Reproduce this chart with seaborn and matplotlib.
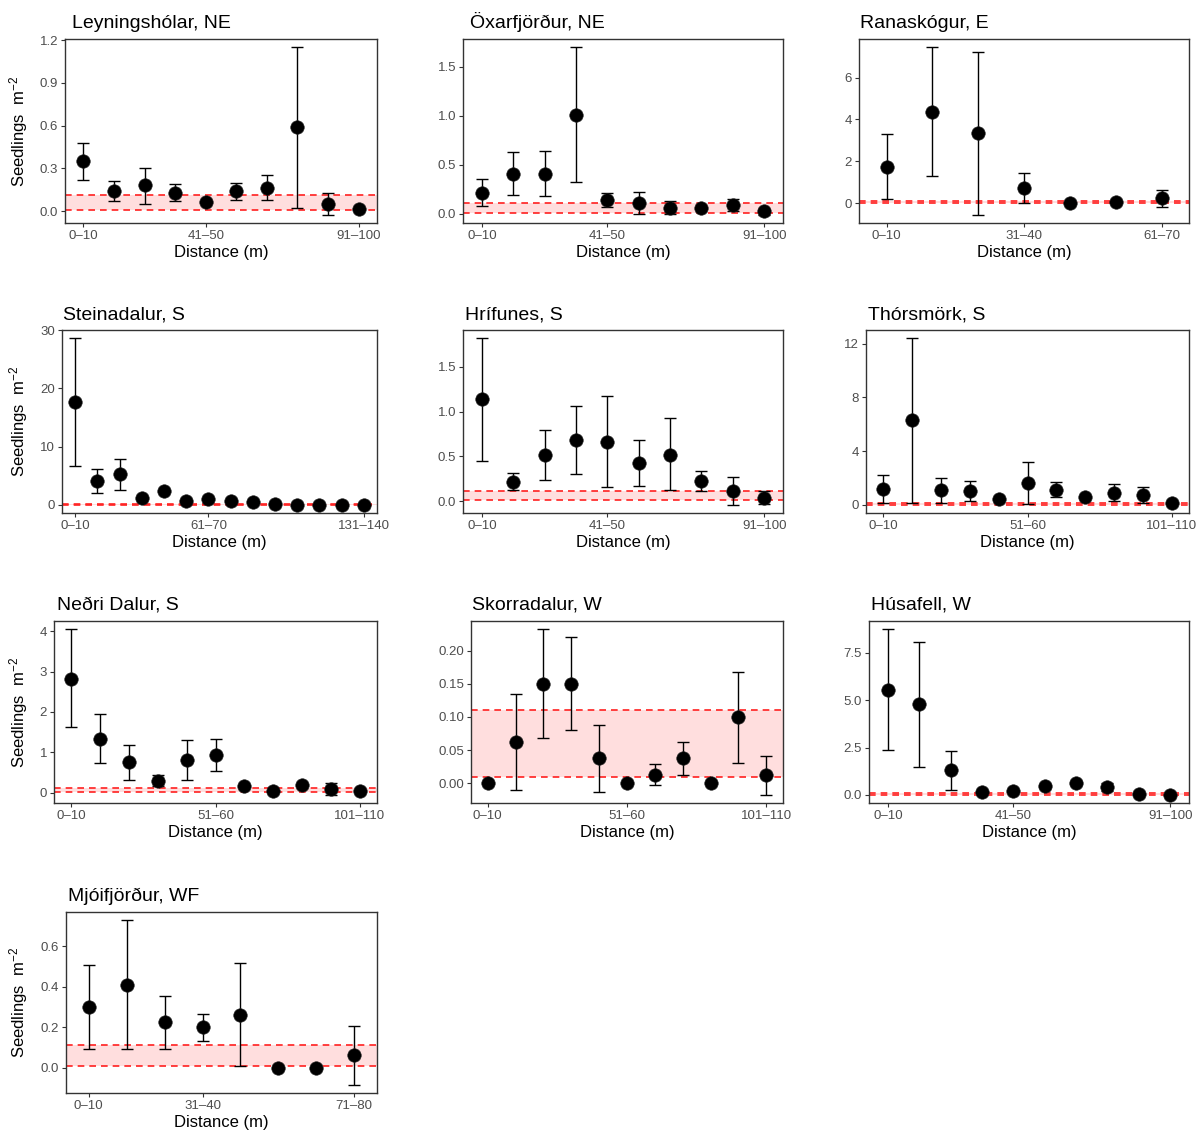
import numpy as np
import seaborn as sns
import matplotlib.pyplot as plt
from matplotlib.ticker import MultipleLocator, FormatStrFormatter

# distance bins (m)
distance_bins = ["0–10", "11–20", "21–30", "31–40", "41–50", "51–60", "61–70",
                 "71–80", "81–90", "91–100", "101–110", "111–120", "121–130", "131–140"]

sites = ["Leyningshólar, NE", "Öxarfjörður, NE", "Ranaskógur, E",
         "Steinadalur, S", "Hrífunes, S", "Thórsmörk, S",
         "Neðri Dalur, S", "Skorradalur, W", "Húsafell, W",
         "Mjóifjörður, WF"]

# mean seedlings m-2 and lower / upper error bar ends
leyn_mean = [0.35, 0.14, 0.18, 0.13, 0.065, 0.14, 0.165, 0.59, 0.05, 0.015]
leyn_lo = [0.22, 0.07, 0.05, 0.07, 0.065, 0.08, 0.08, 0.02, -0.025, 0.015]
leyn_hi = [0.48, 0.21, 0.30, 0.19, 0.065, 0.20, 0.25, 1.15, 0.13, 0.015]

oxar_mean = [0.21, 0.41, 0.41, 1.01, 0.14, 0.11, 0.06, 0.06, 0.09, 0.025]
oxar_lo = [0.08, 0.19, 0.18, 0.32, 0.07, 0.0, 0.0, 0.06, 0.03, -0.01]
oxar_hi = [0.35, 0.63, 0.64, 1.70, 0.21, 0.22, 0.13, 0.06, 0.15, 0.05]

rana_mean = [1.75, 4.35, 3.35, 0.72, 0.0, 0.05, 0.25]
rana_lo = [0.2, 1.3, -0.55, 0.0, 0.0, 0.05, -0.2]
rana_hi = [3.3, 7.45, 7.25, 1.45, 0.0, 0.05, 0.65]

stei_mean = [17.6, 4.0, 5.2, 1.1, 2.3, 0.6, 0.9, 0.7, 0.4, 0.2, 0.0, 0.0, 0.0, 0.0]
stei_lo = [6.6, 2.0, 2.6, 1.1, 2.3, 0.6, 0.9, 0.7, 0.4, 0.2, 0.0, 0.0, 0.0, 0.0]
stei_hi = [28.6, 6.2, 7.9, 1.1, 2.3, 0.6, 0.9, 0.7, 0.4, 0.2, 0.0, 0.0, 0.0, 0.0]

hrif_mean = [1.14, 0.21, 0.52, 0.68, 0.66, 0.43, 0.52, 0.22, 0.11, 0.04]
hrif_lo = [0.45, 0.12, 0.24, 0.30, 0.16, 0.17, 0.12, 0.11, -0.04, -0.03]
hrif_hi = [1.82, 0.31, 0.80, 1.06, 1.18, 0.68, 0.93, 0.34, 0.27, 0.11]

thor_mean = [1.2, 6.3, 1.1, 1.05, 0.4, 1.6, 1.1, 0.6, 0.85, 0.75, 0.1]
thor_lo = [0.15, 0.15, 0.15, 0.3, 0.4, 0.05, 0.55, 0.6, 0.25, 0.1, 0.1]
thor_hi = [2.2, 12.4, 2.0, 1.8, 0.4, 3.2, 1.7, 0.6, 1.55, 1.35, 0.1]

nedr_mean = [2.83, 1.34, 0.75, 0.29, 0.82, 0.94, 0.17, 0.05, 0.2, 0.09, 0.03]
nedr_lo = [1.62, 0.74, 0.32, 0.16, 0.32, 0.53, 0.17, 0.05, 0.2, -0.05, 0.03]
nedr_hi = [4.05, 1.94, 1.19, 0.43, 1.31, 1.34, 0.17, 0.05, 0.2, 0.25, 0.03]

skor_mean = [0.0, 0.063, 0.15, 0.15, 0.038, 0.0, 0.013, 0.038, 0.0, 0.10, 0.013]
skor_lo = [0.0, -0.01, 0.068, 0.08, -0.013, 0.0, -0.003, 0.013, 0.0, 0.031, -0.017]
skor_hi = [0.0, 0.135, 0.232, 0.22, 0.088, 0.0, 0.029, 0.062, 0.0, 0.168, 0.042]

husa_mean = [5.55, 4.8, 1.3, 0.15, 0.2, 0.45, 0.62, 0.4, 0.05, 0.02]
husa_lo = [2.35, 1.45, 0.25, 0.15, 0.2, 0.35, 0.5, 0.2, 0.05, 0.02]
husa_hi = [8.75, 8.1, 2.3, 0.15, 0.2, 0.6, 0.75, 0.62, 0.05, 0.02]

mjoi_mean = [0.30, 0.41, 0.225, 0.20, 0.26, 0.0, 0.0, 0.06]
mjoi_lo = [0.09, 0.09, 0.09, 0.13, 0.01, 0.0, 0.0, -0.085]
mjoi_hi = [0.51, 0.73, 0.355, 0.265, 0.52, 0.0, 0.0, 0.205]

# reference band (dashed red lines)
band_lo, band_hi = 0.01, 0.11

panels = [
    (leyn_mean, leyn_lo, leyn_hi), (oxar_mean, oxar_lo, oxar_hi), (rana_mean, rana_lo, rana_hi),
    (stei_mean, stei_lo, stei_hi), (hrif_mean, hrif_lo, hrif_hi), (thor_mean, thor_lo, thor_hi),
    (nedr_mean, nedr_lo, nedr_hi), (skor_mean, skor_lo, skor_hi), (husa_mean, husa_lo, husa_hi),
    (mjoi_mean, mjoi_lo, mjoi_hi),
]

# layout in pixels: left, right, top, bottom
W, H = 1203, 1136
boxes = [(65, 377, 39, 223), (463, 783, 39, 223), (859, 1189, 39, 223),
         (62, 377, 330, 513), (463, 783, 330, 513), (866, 1189, 330, 513),
         (54, 377, 621, 803), (471, 783, 621, 803), (869, 1189, 621, 803),
         (66, 377, 912, 1093)]
title_dx = [7, 7, 1, 1, 2, 2, 3, 1, 2, 2]
y_step = [0.3, 0.5, 2, 10, 0.5, 4, 1, 0.05, 2.5, 0.2]
y_dec = [1, 1, 0, 0, 1, 0, 0, 2, 1, 1]

sns.set_theme(style="ticks")
plt.rcParams['font.family'] = ['Liberation Sans', 'DejaVu Sans']
plt.rcParams['mathtext.fontset'] = 'custom'
plt.rcParams['mathtext.rm'] = 'Liberation Sans'
plt.rcParams['mathtext.it'] = 'Liberation Sans:italic'

fig = plt.figure(figsize=(W / 100, H / 100), dpi=100)

for i, (site, (mean, lo, hi)) in enumerate(zip(sites, panels)):
    l, r, t, b = boxes[i]
    ax = fig.add_axes([l / W, 1 - b / H, (r - l) / W, (b - t) / H])
    mean, lo, hi = np.array(mean), np.array(lo), np.array(hi)
    n = len(mean)
    x = np.arange(n)

    ax.axhspan(band_lo, band_hi, color='#FFDEDE', lw=0, zorder=0)
    for yv in (band_lo, band_hi):
        ax.axhline(yv, color='#FF2020', lw=1.2, ls=(0, (4, 3)), zorder=1)

    ax.errorbar(x, mean, yerr=[mean - lo, hi - mean], fmt='none', ecolor='black',
                elinewidth=1.0, capsize=4, capthick=1.0, zorder=2)
    sns.scatterplot(x=x, y=mean, ax=ax, color='black', s=95, edgecolor='#222222',
                    linewidth=0.4, zorder=3, legend=False)

    ymin = min(lo.min(), band_lo)
    ymax = max(hi.max(), band_hi)
    pad = 0.05 * (ymax - ymin)
    ax.set_ylim(ymin - pad, ymax + pad)
    ax.set_xlim(-0.6, n - 1 + 0.6)

    ticks = [0, (n - 1) // 2, n - 1]
    ax.set_xticks(ticks)
    ax.set_xticklabels([distance_bins[k] for k in ticks])
    ax.yaxis.set_major_locator(MultipleLocator(y_step[i]))
    ax.yaxis.set_major_formatter(FormatStrFormatter('%.' + str(y_dec[i]) + 'f'))

    for s in ax.spines.values():
        s.set_color('#333333')
        s.set_linewidth(1.0)
    ax.tick_params(length=3, width=0.8, color='#333333', labelcolor='#4D4D4D',
                   labelsize=9.5, pad=2)

    ax.set_xlabel('Distance (m)', fontsize=12, color='black', labelpad=2)
    if i % 3 == 0:
        ax.set_ylabel('Seedlings  m$^{-2}$', fontsize=12, color='black')
        ax.yaxis.set_label_coords((30 - l) / (r - l), 0.5)
    else:
        ax.set_ylabel('')

    ax.text(title_dx[i] / (r - l), 1 + 11 / (b - t), site, transform=ax.transAxes,
            fontsize=14, color='black', ha='left', va='baseline')

fig.savefig('out.png', dpi=100)
